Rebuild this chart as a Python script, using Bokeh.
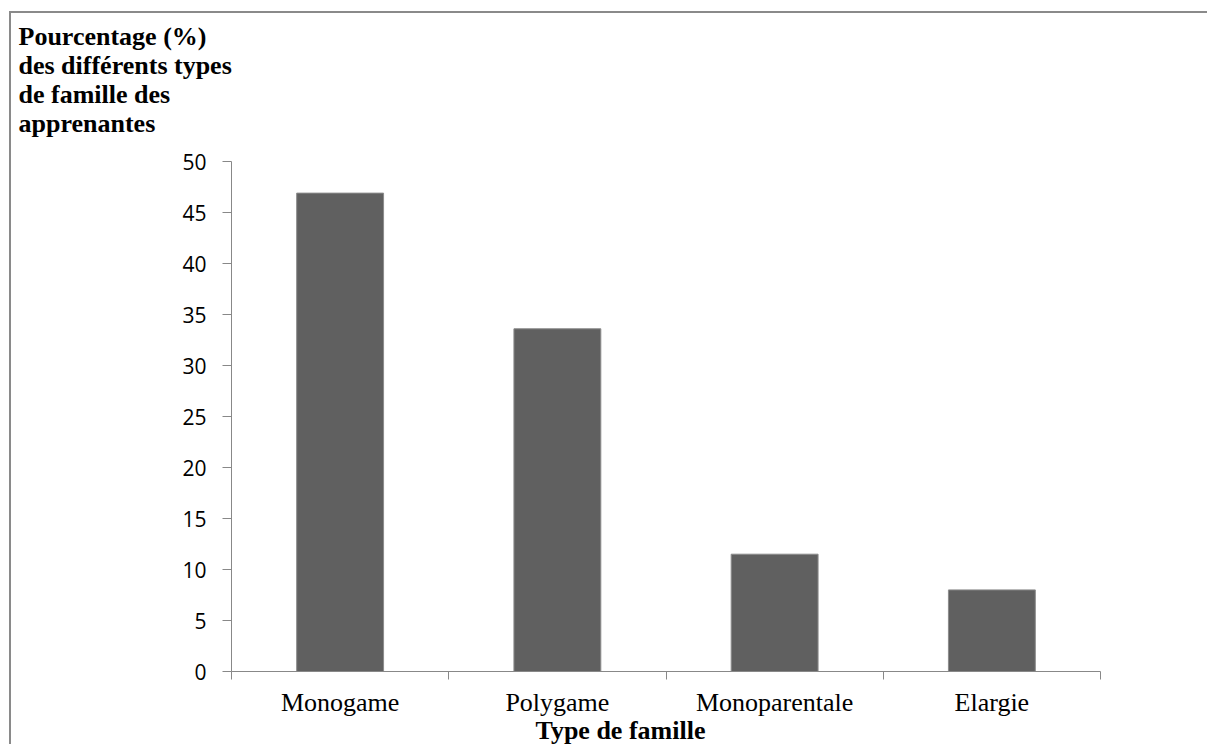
from bokeh.plotting import figure
from bokeh.models import Range1d, FixedTicker, Title
from bokeh.embed import file_html
from bokeh.resources import INLINE

# ---- data ----
categories = ["Monogame", "Polygame", "Monoparentale", "Elargie"]
percentages = [46.9, 33.6, 11.5, 8.0]
y_ticks = [0, 5, 10, 15, 20, 25, 30, 35, 40, 45, 50]
y_title_lines = ["Pourcentage (%)", "des différents types", "de famille des", "apprenantes"]
x_title = "Type de famille"

n = len(categories)
centers = [i + 0.5 for i in range(n)]
bounds = list(range(n + 1))

ML, MT = 220, 148
FW, FH = 869, 510
MB = 75
W, H = 1198, MT + FH + MB

p = figure(width=W, height=H, output_backend="svg", toolbar_location=None,
           x_range=Range1d(0, n), y_range=Range1d(0, 50),
           min_border_left=ML, min_border_top=MT,
           min_border_right=W - ML - FW, min_border_bottom=MB,
           styles={"border-left": "2px solid #8a8a8a", "border-top": "2px solid #8a8a8a",
                   "margin-left": "9px", "margin-top": "11px"})

p.vbar(x=centers, top=percentages, width=0.4, bottom=0,
       fill_color="#606060", line_color="#8c8c8c", line_width=1)

p.grid.visible = False
p.outline_line_color = None
p.background_fill_color = "white"
p.border_fill_color = "white"

# x axis
xa = p.xaxis[0]
xa.ticker = FixedTicker(ticks=centers, minor_ticks=bounds)
xa.major_label_overrides = {c: lab for c, lab in zip(centers, categories)}
xa.major_tick_out = 0
xa.major_tick_in = 0
xa.minor_tick_out = 8
xa.minor_tick_in = 0
xa.minor_tick_line_color = "#888888"
xa.axis_line_color = "#888888"
xa.major_label_text_font = "Liberation Serif"
xa.major_label_text_font_size = "26px"
xa.major_label_text_color = "black"
xa.major_label_standoff = 8

# y axis
ya = p.yaxis[0]
ya.ticker = FixedTicker(ticks=y_ticks)
ya.major_tick_out = 9
ya.major_tick_in = 0
ya.minor_tick_line_color = None
ya.major_tick_line_color = "#888888"
ya.axis_line_color = "#888888"
ya.major_label_text_font = "Open Sans"
ya.major_label_text_font_size = "21px"
ya.major_label_text_color = "black"
ya.major_label_standoff = 16

# spacer between frame and the y title block
p.add_layout(Title(text=" ", standoff=22, text_font_size="1px"), "above")
# y title lines, stacked above the frame (first added = nearest the frame)
for line in reversed(y_title_lines):
    p.add_layout(Title(text=line, align="left", offset=-213, standoff=-2,
                       text_font="Liberation Serif", text_font_style="bold",
                       text_font_size="26px", text_color="black"), "above")

p.add_layout(Title(text=x_title, align="left", offset=304, standoff=-11,
                   text_font="Liberation Serif", text_font_style="bold",
                   text_font_size="26px", text_color="black"), "below")

open("out.html", "w").write(file_html(p, INLINE))
